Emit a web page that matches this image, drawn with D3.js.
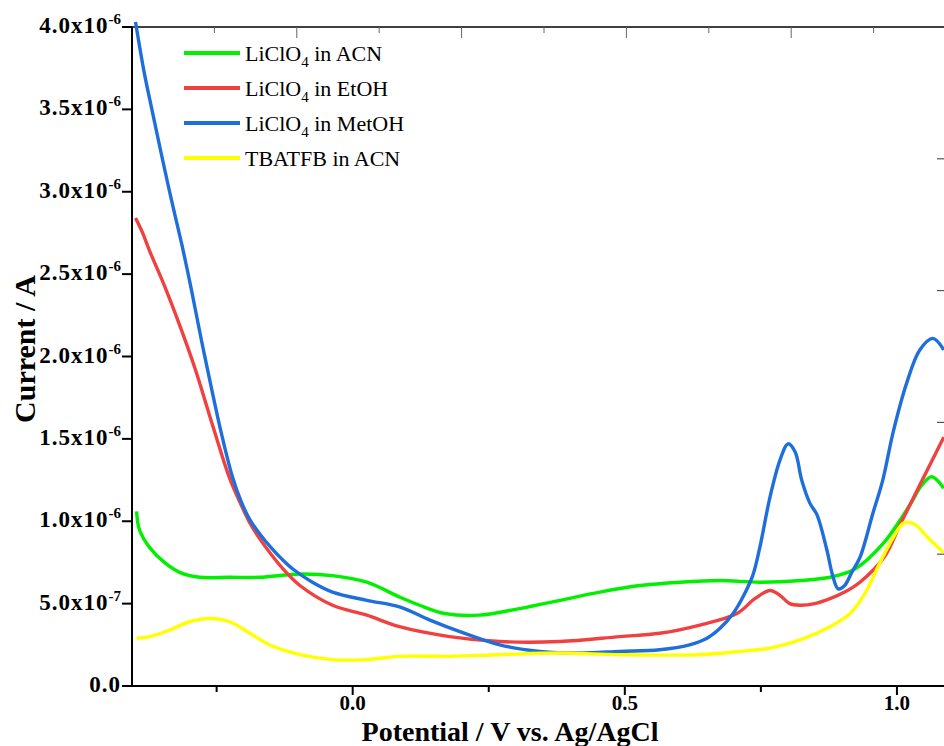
<!DOCTYPE html>
<html>
<head>
<meta charset="utf-8">
<script src="https://cdn.jsdelivr.net/npm/d3@7"></script>
<style>
body { margin: 0; background: #fff; }
svg { display: block; }
text { font-family: "Liberation Serif", "Times New Roman", serif; }
</style>
</head>
<body>
<script>
// potentials in V, currents in units of 1e-6 A
const potMetOH = [-0.399,-0.384,-0.369,-0.351,-0.333,-0.314,-0.296,-0.278,-0.259,-0.241,-0.221,-0.205,-0.189,-0.170,-0.150,-0.130,-0.110,-0.074,-0.037,0.026,0.086,0.142,0.197,0.270,0.344,0.417,0.491,0.564,0.619,0.651,0.675,0.699,0.717,0.735,0.748,0.767,0.785,0.800,0.813,0.825,0.840,0.853,0.871,0.882,0.892,0.904,0.917,0.932,0.956,0.974,0.993,1.018,1.042,1.066,1.086];
const curMetOH = [4.03,3.74,3.50,3.22,2.95,2.68,2.40,2.10,1.80,1.53,1.27,1.12,1.01,0.92,0.84,0.77,0.71,0.63,0.57,0.52,0.48,0.40,0.33,0.25,0.21,0.20,0.21,0.22,0.25,0.29,0.35,0.44,0.54,0.67,0.84,1.15,1.37,1.47,1.42,1.25,1.11,1.04,0.83,0.67,0.59,0.61,0.69,0.78,1.05,1.25,1.54,1.84,2.04,2.11,2.04];

const potEtOH = [-0.399,-0.386,-0.373,-0.346,-0.318,-0.290,-0.259,-0.226,-0.205,-0.189,-0.170,-0.150,-0.125,-0.097,-0.037,0.026,0.086,0.178,0.270,0.381,0.491,0.564,0.638,0.706,0.739,0.767,0.785,0.803,0.822,0.849,0.877,0.904,0.932,0.976,1.006,1.042,1.086];
const curEtOH = [2.84,2.75,2.64,2.43,2.19,1.93,1.60,1.26,1.10,0.99,0.89,0.80,0.70,0.61,0.49,0.43,0.36,0.30,0.27,0.27,0.30,0.32,0.37,0.44,0.53,0.58,0.55,0.50,0.49,0.50,0.53,0.57,0.63,0.78,0.98,1.22,1.51];

const potACN = [-0.397,-0.392,-0.373,-0.346,-0.318,-0.281,-0.226,-0.171,-0.097,-0.037,0.026,0.086,0.123,0.169,0.233,0.307,0.381,0.454,0.528,0.601,0.675,0.748,0.822,0.877,0.923,0.976,1.024,1.046,1.064,1.086];
const curACN = [1.06,0.95,0.84,0.75,0.69,0.66,0.66,0.66,0.68,0.67,0.63,0.54,0.49,0.44,0.43,0.47,0.52,0.57,0.61,0.63,0.64,0.63,0.64,0.66,0.71,0.87,1.10,1.22,1.27,1.20];

const potTBATFB = [-0.397,-0.373,-0.336,-0.300,-0.263,-0.226,-0.189,-0.153,-0.097,-0.037,0.026,0.086,0.178,0.270,0.381,0.491,0.638,0.711,0.767,0.822,0.877,0.914,0.941,0.969,0.993,1.013,1.033,1.057,1.086];
const curTBATFB = [0.29,0.30,0.34,0.39,0.41,0.39,0.32,0.25,0.19,0.16,0.16,0.18,0.18,0.19,0.20,0.19,0.19,0.21,0.23,0.28,0.36,0.44,0.56,0.75,0.90,0.99,0.98,0.90,0.81];

const seriesNames = ['LiClO4 in ACN', 'LiClO4 in EtOH', 'LiClO4 in MetOH', 'TBATFB in ACN'];
const seriesColors = ['#00f000', '#f04040', '#1e6fdc', '#ffff00'];
const xTicks = [-0.25, 0.0, 0.25, 0.5, 0.75, 1.0];
const yTicks = [0, 0.5, 1.0, 1.5, 2.0, 2.5, 3.0, 3.5, 4.0];

const w = 944;
const h = 746;
const mLeft = 132, mTop = 27, mBottom = 686;

const x = d3.scaleLinear().domain([-0.4055, 1.0865]).range([mLeft, 944]);
const y = d3.scaleLinear().domain([0, 4]).range([mBottom, mTop]);
const topScale = d3.scaleLinear().domain([0, 10]).range([mLeft, mLeft + 824]);
const rightScale = d3.scaleLinear().domain([0, 5]).range([mBottom, mTop]);

const svg = d3.select('body').append('svg')
	.attr('width', w)
	.attr('height', h);

const series = [
	{ name: seriesNames[0], color: seriesColors[0], pts: d3.zip(potACN, curACN) },
	{ name: seriesNames[1], color: seriesColors[1], pts: d3.zip(potEtOH, curEtOH) },
	{ name: seriesNames[2], color: seriesColors[2], pts: d3.zip(potMetOH, curMetOH) },
	{ name: seriesNames[3], color: seriesColors[3], pts: d3.zip(potTBATFB, curTBATFB) }
];

// top frame line with inward grey ticks
svg.append('line')
	.attr('x1', mLeft).attr('x2', w)
	.attr('y1', mTop).attr('y2', mTop)
	.attr('stroke', '#000').attr('stroke-width', 1.5);

svg.selectAll('.ttick')
	.data(d3.range(1, 10))
	.enter().append('line')
	.attr('x1', d => topScale(d)).attr('x2', d => topScale(d))
	.attr('y1', mTop).attr('y2', d => mTop + (d % 2 === 0 ? 11 : 6))
	.attr('stroke', '#666').attr('stroke-width', 1);

svg.selectAll('.rtick')
	.data(d3.range(1, 5))
	.enter().append('line')
	.attr('x1', w - 7).attr('x2', w)
	.attr('y1', d => rightScale(d)).attr('y2', d => rightScale(d))
	.attr('stroke', '#555').attr('stroke-width', 1.2);

// curves
const line = d3.line()
	.x(d => x(d[0]))
	.y(d => y(d[1]))
	.curve(d3.curveCatmullRom.alpha(0.5));

svg.selectAll('.curve')
	.data(series)
	.enter().append('path')
	.attr('d', d => line(d.pts))
	.attr('fill', 'none')
	.attr('stroke', d => d.color)
	.attr('stroke-width', 3.4)
	.attr('stroke-linejoin', 'round');

// axes
svg.append('line')
	.attr('x1', mLeft).attr('x2', mLeft)
	.attr('y1', mTop).attr('y2', mBottom)
	.attr('stroke', '#000').attr('stroke-width', 2);
svg.append('line')
	.attr('x1', mLeft).attr('x2', w)
	.attr('y1', mBottom).attr('y2', mBottom)
	.attr('stroke', '#000').attr('stroke-width', 2);

svg.selectAll('.ytick')
	.data(yTicks)
	.enter().append('line')
	.attr('x1', mLeft - 10).attr('x2', mLeft)
	.attr('y1', d => y(d)).attr('y2', d => y(d))
	.attr('stroke', '#000').attr('stroke-width', 2);

const ylab = svg.selectAll('.ylab')
	.data(yTicks)
	.enter().append('text')
	.attr('x', mLeft - 11)
	.attr('y', d => y(d) + 6)
	.attr('text-anchor', 'end')
	.attr('font-size', 23)
	.attr('letter-spacing', 1)
	.attr('font-weight', 'bold');
ylab.append('tspan')
	.text(d => d === 0 ? '0.0' : (d < 1 ? (d * 10).toFixed(1) : d.toFixed(1)) + 'x10');
ylab.filter(d => d !== 0).append('tspan')
	.attr('dy', -9)
	.attr('font-size', 15)
	.attr('letter-spacing', 0)
	.text(d => d < 1 ? '-7' : '-6');

const isMajor = d => Math.abs(d * 2 - Math.round(d * 2)) < 1e-9;

svg.selectAll('.xtick')
	.data(xTicks)
	.enter().append('line')
	.attr('x1', d => x(d)).attr('x2', d => x(d))
	.attr('y1', mBottom).attr('y2', d => mBottom + (isMajor(d) ? 9 : 6))
	.attr('stroke', '#000').attr('stroke-width', 2);

svg.selectAll('.xlab')
	.data(xTicks.filter(isMajor))
	.enter().append('text')
	.attr('x', d => x(d))
	.attr('y', 710)
	.attr('text-anchor', 'middle')
	.attr('font-size', 21)
	.attr('font-weight', 'bold')
	.text(d => d.toFixed(1));

svg.append('text')
	.attr('x', 510).attr('y', 741)
	.attr('text-anchor', 'middle')
	.attr('font-size', 28)
	.attr('font-weight', 'bold')
	.text('Potential / V vs. Ag/AgCl');

svg.append('text')
	.attr('transform', 'translate(35,349) rotate(-90)')
	.attr('text-anchor', 'middle')
	.attr('font-size', 30)
	.attr('font-weight', 'bold')
	.text('Current / A');

// legend
const legend = svg.selectAll('.leg')
	.data(series)
	.enter().append('g')
	.attr('transform', (d, i) => `translate(184,${53 + i * 35})`);
legend.append('line')
	.attr('x1', 0).attr('x2', 56)
	.attr('stroke', d => d.color)
	.attr('stroke-width', 4);
const lt = legend.append('text')
	.attr('x', 61).attr('y', 8)
	.attr('font-size', 22);
lt.each(function (d) {
	const t = d3.select(this);
	const m = d.name.match(/^(LiClO)4(.*)$/);
	if (m) {
		t.append('tspan').text(m[1]);
		t.append('tspan').attr('dy', 6).attr('font-size', 15).text('4');
		t.append('tspan').attr('dy', -6).text(m[2]);
	} else {
		t.text(d.name);
	}
});
</script>
</body>
</html>
